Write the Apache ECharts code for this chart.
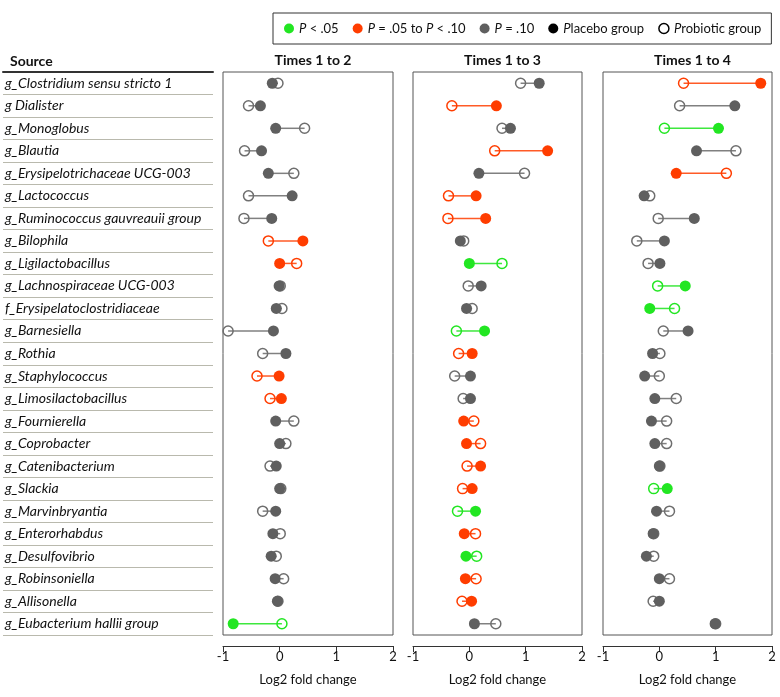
<!DOCTYPE html>
<html>
<head>
<meta charset="utf-8">
<script src="https://cdn.jsdelivr.net/npm/echarts@6/dist/echarts.min.js"></script>
<style>
  html, body { margin: 0; padding: 0; background: #fff; }
  #chart { width: 780px; height: 697px; }
</style>
</head>
<body>
<div id="chart"></div>
<script>
// row labels, top to bottom
var categories = [
  'g_Clostridium sensu stricto 1', 'g Dialister', 'g_Monoglobus', 'g_Blautia',
  'g_Erysipelotrichaceae UCG-003', 'g_Lactococcus', 'g_Ruminococcus gauvreauii group',
  'g_Bilophila', 'g_Ligilactobacillus', 'g_Lachnospiraceae UCG-003',
  'f_Erysipelatoclostridiaceae', 'g_Barnesiella', 'g_Rothia', 'g_Staphylococcus',
  'g_Limosilactobacillus', 'g_Fournierella', 'g_Coprobacter', 'g_Catenibacterium',
  'g_Slackia', 'g_Marvinbryantia', 'g_Enterorhabdus', 'g_Desulfovibrio',
  'g_Robinsoniella', 'g_Allisonella', 'g_Eubacterium hallii group'
]

var panelTitles = ['Times 1 to 2', 'Times 1 to 3', 'Times 1 to 4']
var xTicks = [-1, 0, 1, 2]

// log2 fold change, placebo (filled) and probiotic (open)
var placebo12 = [-0.13, -0.34, -0.07, -0.32, -0.20, 0.22, -0.14, 0.41, 0.00, -0.01, -0.06, -0.11, 0.11, -0.01, 0.03, -0.07, 0.00, -0.06, 0.00, -0.07, -0.12, -0.15, -0.08, -0.04, -0.82]
var probiotic12 = [-0.03, -0.55, 0.44, -0.62, 0.25, -0.55, -0.63, -0.20, 0.30, 0.01, 0.04, -0.91, -0.30, -0.40, -0.17, 0.25, 0.11, -0.17, 0.02, -0.30, 0.01, -0.06, 0.07, -0.03, 0.04]
var placebo13 = [1.24, 0.48, 0.73, 1.39, 0.17, 0.12, 0.29, -0.16, 0.00, 0.21, -0.05, 0.27, 0.05, 0.02, 0.02, -0.10, -0.05, 0.20, 0.05, 0.11, -0.09, -0.06, -0.07, 0.04, 0.09]
var probiotic13 = [0.91, -0.31, 0.58, 0.45, 0.98, -0.37, -0.38, -0.10, 0.58, -0.02, 0.05, -0.23, -0.19, -0.26, -0.11, 0.08, 0.20, -0.04, -0.12, -0.21, 0.11, 0.13, 0.12, -0.13, 0.47]
var placebo14 = [1.80, 1.34, 1.05, 0.66, 0.30, -0.27, 0.62, 0.09, 0.01, 0.46, -0.17, 0.51, -0.12, -0.26, -0.08, -0.14, -0.08, 0.00, 0.14, -0.05, -0.11, -0.23, 0.00, 0.00, 0.99]
var probiotic14 = [0.43, 0.36, 0.09, 1.36, 1.19, -0.17, -0.02, -0.40, -0.20, -0.03, 0.27, 0.07, 0.01, 0.00, 0.30, 0.13, 0.13, 0.01, -0.10, 0.18, -0.10, -0.10, 0.18, -0.11, 1.00]

// significance class: 0 = P < .05, 1 = P = .05 to P < .10, 2 = P = .10
var sig12 = [2, 2, 2, 2, 2, 2, 2, 1, 1, 2, 2, 2, 2, 1, 1, 2, 2, 2, 2, 2, 2, 2, 2, 2, 0]
var sig13 = [2, 1, 2, 1, 2, 1, 1, 2, 0, 2, 2, 0, 1, 2, 2, 1, 1, 1, 1, 0, 1, 0, 1, 1, 2]
var sig14 = [1, 2, 0, 2, 1, 2, 2, 2, 2, 0, 0, 2, 2, 2, 2, 2, 2, 2, 0, 2, 2, 2, 2, 2, 2]

var dotColors = ['#22e622', '#ff3d00', '#5f5f5f']
var ringColors = ['#22e622', '#ff3d00', '#6e6e6e']
var lineColors = ['#3ee83e', '#ff5a26', '#808080']

var panels = [
  { placebo: placebo12, probiotic: probiotic12, sig: sig12, left: 223, width: 170 },
  { placebo: placebo13, probiotic: probiotic13, sig: sig13, left: 413, width: 169 },
  { placebo: placebo14, probiotic: probiotic14, sig: sig14, left: 603, width: 169 }
]

var font = 'Lato, "Noto Sans", sans-serif'
var gridTop = 72
var gridHeight = 563

var grids = [{ left: 3, width: 210, top: gridTop, height: gridHeight }]
var xAxes = [{
  gridIndex: 0, type: 'value', position: 'top', min: 0, max: 1,
  axisLine: { show: true, lineStyle: { color: '#333', width: 2 } },
  axisTick: { show: false }, axisLabel: { show: false }, splitLine: { show: false }
}]
var yAxes = [{
  gridIndex: 0, type: 'category', inverse: true, data: categories,
  axisLine: { show: false }, axisTick: { show: false },
  axisLabel: { inside: true, margin: 2, color: '#111', fontSize: 14, fontStyle: 'italic', fontFamily: font },
  splitLine: { show: true, lineStyle: { color: '#b9b9ad', width: 1 } }
}]
var titles = [{
  text: 'Source', left: 5, top: 49,
  textStyle: { fontSize: 14, fontWeight: 'bold', color: '#111', fontFamily: font }
}]
var series = []

panels.forEach(function (p, k) {
  var g = k + 1
  grids.push({
    left: p.left, width: p.width, top: gridTop, height: gridHeight,
    show: true, borderColor: '#555', borderWidth: 1, backgroundColor: '#fff'
  })
  xAxes.push({
    gridIndex: g, type: 'value', min: xTicks[0], max: xTicks[xTicks.length - 1], interval: 1,
    offset: 11,
    name: 'Log2 fold change', nameLocation: 'middle', nameGap: 27,
    nameTextStyle: { fontSize: 13, color: '#111', fontFamily: font },
    axisLine: { show: true, lineStyle: { color: '#333', width: 1 } },
    axisTick: { show: true, length: 6, lineStyle: { color: '#333' } },
    axisLabel: { fontSize: 13, color: '#111', fontFamily: font, margin: 4 },
    splitLine: { show: false }
  })
  yAxes.push({
    gridIndex: g, type: 'category', inverse: true, data: categories,
    axisLine: { show: false }, axisTick: { show: false }, axisLabel: { show: false },
    splitLine: { show: false }
  })
  titles.push({
    text: panelTitles[k], left: p.left + p.width / 2, top: 48, textAlign: 'center',
    textStyle: { fontSize: 14, fontWeight: 'bold', color: '#111', fontFamily: font }
  })

  var segs = [], filled = [], open = []
  for (var i = 0; i < categories.length; i++) {
    var s = p.sig[i]
    segs.push([p.placebo[i], p.probiotic[i], i, s])
    open.push({
      value: [p.probiotic[i], i],
      itemStyle: { color: 'rgba(0,0,0,0)', borderColor: ringColors[s], borderWidth: 1.5, opacity: 1 }
    })
    filled.push({ value: [p.placebo[i], i], itemStyle: { color: dotColors[s], opacity: 1 } })
  }

  series.push({
    type: 'custom', xAxisIndex: g, yAxisIndex: g, z: 2, silent: true,
    encode: { x: [0, 1], y: 2 },
    data: segs,
    renderItem: function (params, api) {
      var a = api.coord([api.value(0), api.value(2)])
      var b = api.coord([api.value(1), api.value(2)])
      return {
        type: 'line',
        shape: { x1: a[0], y1: a[1], x2: b[0], y2: b[1] },
        style: { stroke: lineColors[api.value(3)], lineWidth: 1.5 }
      }
    }
  })
  series.push({
    type: 'scatter', xAxisIndex: g, yAxisIndex: g, z: 3, silent: true,
    symbol: 'circle', symbolSize: 10, itemStyle: { opacity: 1 }, data: open
  })
  series.push({
    type: 'scatter', xAxisIndex: g, yAxisIndex: g, z: 4, silent: true,
    symbol: 'circle', symbolSize: 11, itemStyle: { opacity: 1 }, data: filled
  })
})

// empty series just for the legend entries
var legendNames = ['P < .05', 'P = .05 to P < .10', 'P = .10', 'Placebo group', 'Probiotic group']
var legendStyles = [
  { color: dotColors[0], opacity: 1 },
  { color: dotColors[1], opacity: 1 },
  { color: dotColors[2], opacity: 1 },
  { color: '#000', opacity: 1 },
  { color: '#fff', borderColor: '#000', borderWidth: 1.5, opacity: 1 }
]
legendNames.forEach(function (n, i) {
  series.push({ type: 'scatter', name: n, xAxisIndex: 1, yAxisIndex: 1, data: [], itemStyle: legendStyles[i] })
})

var chart = echarts.init(document.getElementById('chart'), null, { renderer: 'canvas' })
chart.setOption({
  animation: false,
  backgroundColor: '#fff',
  title: titles,
  legend: {
    left: 273, top: 13, width: 600,
    padding: [9, 10, 9, 11],
    borderColor: '#333', borderWidth: 1,
    itemWidth: 10, itemHeight: 10, itemGap: 14,
    icon: 'circle',
    selectedMode: false,
    data: legendNames.map(function (n, i) {
      return { name: n, icon: 'circle', itemStyle: legendStyles[i] }
    }),
    formatter: function (name) {
      return name.replace(/P/g, '{i|P}')
    },
    textStyle: {
      fontSize: 13, color: '#111', fontFamily: font,
      rich: { i: { fontStyle: 'italic', fontSize: 13, color: '#111', fontFamily: font } }
    }
  },
  grid: grids,
  xAxis: xAxes,
  yAxis: yAxes,
  series: series
})
</script>
</body>
</html>
